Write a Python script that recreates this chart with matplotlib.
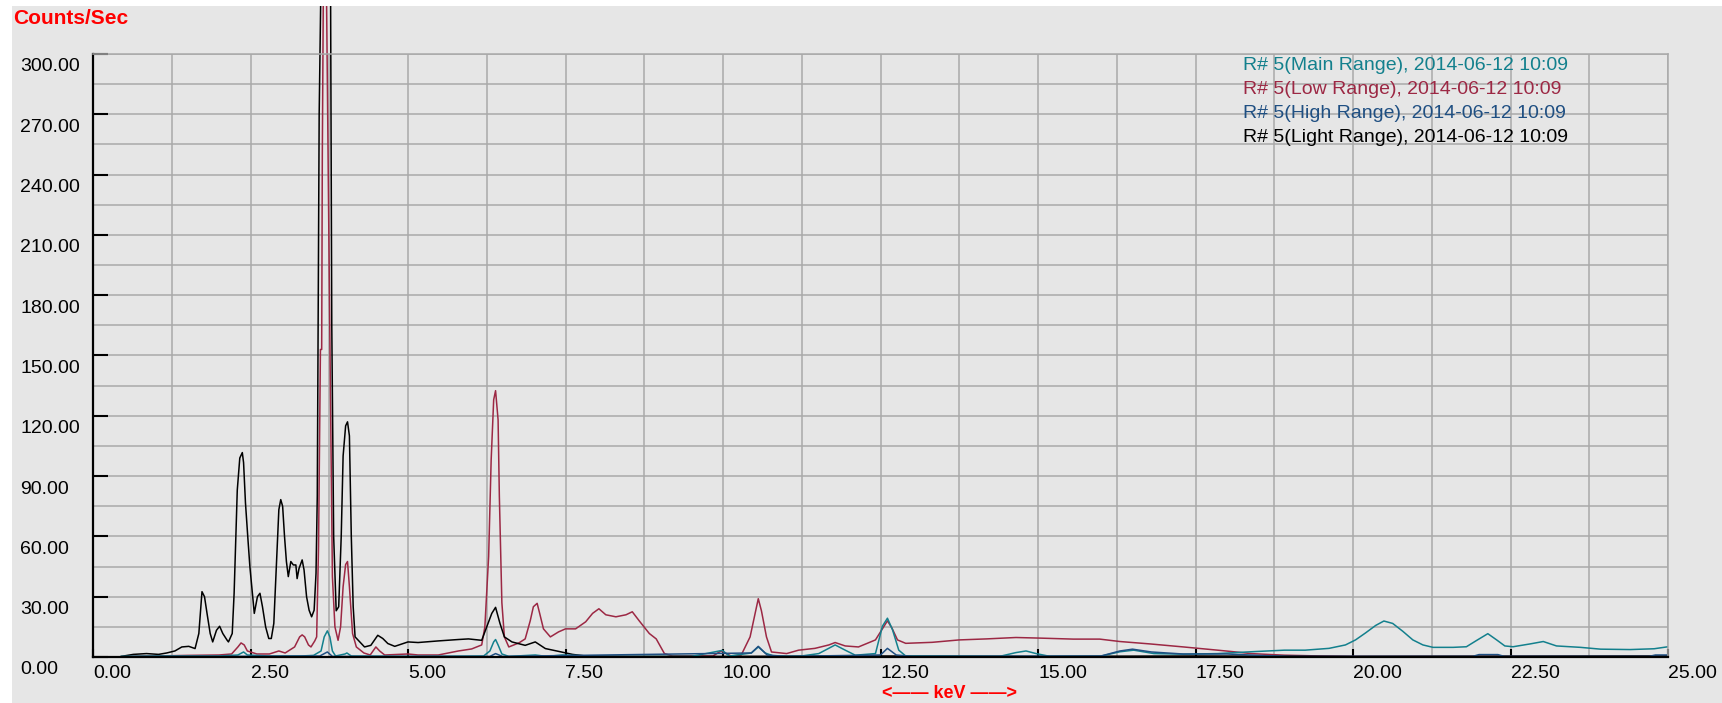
import matplotlib
matplotlib.use("Agg")
import matplotlib.pyplot as plt
import numpy as np
from matplotlib.patches import Rectangle
from matplotlib.transforms import Bbox, TransformedBbox

plt.rcParams['font.family'] = ['Liberation Sans', 'DejaVu Sans']

# spectra: energy (keV) and counts per second
light_kev = [0.45, 0.64, 0.85, 1.04, 1.17, 1.30, 1.41, 1.52, 1.62, 1.68, 1.73, 1.77, 1.81,
             1.86, 1.90, 1.96, 2.01, 2.06, 2.13, 2.15, 2.21, 2.24, 2.29, 2.33, 2.37, 2.39,
             2.42, 2.46, 2.49, 2.53, 2.56, 2.61, 2.65, 2.69, 2.74, 2.79, 2.83, 2.87, 2.91,
             2.95, 2.98, 3.01, 3.04, 3.07, 3.10, 3.14, 3.18, 3.22, 3.24, 3.27, 3.32, 3.35,
             3.39, 3.43, 3.47, 3.51, 3.54, 3.56, 3.59, 3.62, 3.77, 3.79, 3.82, 3.86, 3.90,
             3.94, 3.97, 4.01, 4.04, 4.07, 4.10, 4.13, 4.16, 4.31, 4.41, 4.52, 4.60, 4.68,
             4.79, 5.00, 5.16, 5.48, 5.80, 5.96, 6.17, 6.25, 6.33, 6.39, 6.46, 6.53, 6.65,
             6.86, 7.02, 7.18, 7.39, 7.61, 7.82, 8.50, 10.0, 12.5, 15.0, 17.5, 20.0, 25.0]
light_cps = [0.3, 1.3, 1.7, 1.3, 2.0, 3.0, 5.0, 5.3, 4.2, 11.7, 32.5, 30.0, 21.7,
             11.7, 7.5, 13.3, 15.3, 11.7, 8.3, 7.5, 11.7, 31.7, 83.0, 99.0, 101.7, 96.7,
             76.7, 58.3, 45.0, 31.7, 21.7, 30.0, 31.7, 25.0, 15.0, 9.2, 9.2, 16.7, 45.0,
             73.3, 78.3, 75.0, 60.0, 47.5, 40.0, 47.5, 45.8, 45.8, 39.0, 44.0, 48.3, 43.3,
             30.0, 23.3, 20.0, 23.3, 41.7, 80.0, 270.0, 340.0, 340.0, 165.0, 60.0, 23.0, 25.0,
             60.0, 100.0, 115.0, 117.0, 110.0, 60.0, 25.0, 10.0, 5.0, 5.8, 10.8, 9.2, 6.7,
             5.3, 7.5, 7.2, 8.0, 8.7, 9.0, 8.3, 15.0, 21.7, 24.7, 16.7, 10.0, 7.5,
             5.8, 7.5, 4.2, 2.8, 1.3, 0.5, 0.3, 0.3, 0.5, 0.3, 0.5, 0.3, 0.5]

low_kev = [0.55, 1.0, 1.5, 2.0, 2.2, 2.30, 2.35, 2.40, 2.45, 2.60, 2.80, 2.95, 3.05, 3.20,
           3.28, 3.32, 3.36, 3.42, 3.46, 3.52, 3.55, 3.58, 3.61, 3.63, 3.64, 3.66, 3.70,
           3.72, 3.75, 3.77, 3.80, 3.84, 3.89, 3.93, 3.97, 4.01, 4.04, 4.07, 4.12, 4.18,
           4.30, 4.40, 4.49, 4.55, 4.63, 5.00, 5.16, 5.48, 5.80, 6.01, 6.17, 6.22, 6.28,
           6.32, 6.36, 6.39, 6.43, 6.45, 6.49, 6.53, 6.60, 6.76, 6.86, 6.94, 6.99, 7.05,
           7.09, 7.15, 7.26, 7.39, 7.50, 7.66, 7.82, 7.93, 8.03, 8.14, 8.30, 8.46, 8.56,
           8.67, 8.83, 8.94, 9.07, 9.20, 9.84, 9.97, 10.13, 10.29, 10.43, 10.51, 10.56,
           10.61, 10.69, 10.77, 11.01, 11.20, 11.46, 11.68, 11.78, 11.94, 12.15, 12.42,
           12.53, 12.61, 12.68, 12.77, 12.90, 13.32, 13.75, 14.18, 14.65, 15.03, 15.56,
           15.98, 16.30, 16.78, 17.31, 17.85, 18.11, 18.38, 18.91, 19.50, 20.0, 25.0]
low_cps = [0.3, 0.5, 0.8, 1.0, 1.5, 5.0, 7.0, 6.0, 3.0, 1.5, 1.5, 3.0, 2.0, 5.0,
           10.0, 11.0, 10.0, 6.0, 5.0, 8.0, 10.0, 55.0, 153.0, 153.0, 250.0, 350.0, 350.0,
           286.0, 190.0, 128.0, 40.0, 15.0, 8.3, 15.0, 35.0, 46.0, 47.5, 35.0, 11.7, 5.0,
           2.0, 1.0, 5.0, 3.0, 1.0, 1.5, 1.0, 1.0, 3.0, 4.0, 6.0, 15.0, 50.0,
           98.0, 128.0, 132.5, 118.0, 80.0, 27.0, 10.0, 5.0, 7.0, 9.0, 18.0, 25.0, 26.7,
           21.7, 14.0, 10.0, 12.5, 14.0, 14.0, 17.5, 21.7, 24.0, 21.0, 20.0, 21.0, 22.5,
           18.0, 11.7, 9.0, 1.7, 0.5, 0.5, 3.0, 0.5, 1.0, 10.0, 21.7, 29.0,
           23.0, 10.0, 2.5, 1.7, 3.4, 4.3, 6.0, 7.2, 5.5, 5.0, 8.5,
           14.0, 18.0, 14.5, 8.5, 6.8, 7.3, 8.5, 9.0, 9.7, 9.4, 8.9,
           8.9, 7.7, 6.5, 5.0, 3.4, 2.6, 1.7, 0.9, 0.5, 0.3, 0.3]

main_kev = [0.45, 1.0, 1.5, 2.0, 2.30, 2.39, 2.45, 2.80, 3.30, 3.50, 3.62, 3.67, 3.72, 3.76,
            3.80, 3.85, 4.00, 4.03, 4.10, 5.00, 6.20, 6.30, 6.36, 6.39, 6.43, 6.49, 6.60,
            7.02, 7.20, 7.45, 8.00, 9.50, 9.99, 10.10, 10.45, 10.56, 10.67, 10.80, 11.20,
            11.52, 11.78, 11.94, 12.10, 12.42, 12.53, 12.61, 12.69, 12.79, 12.90, 14.39,
            14.65, 14.81, 14.97, 15.19, 15.98, 16.30, 16.52, 16.84, 17.31, 17.85, 18.38,
            18.91, 19.24, 19.62, 19.88, 20.04, 20.20, 20.36, 20.49, 20.63, 20.79, 20.95,
            21.11, 21.27, 21.59, 21.80, 21.96, 22.14, 22.28, 22.41, 22.54, 22.81, 23.02,
            23.23, 23.61, 23.93, 24.40, 24.78, 25.0]
main_cps = [0.3, 0.5, 0.5, 0.5, 1.0, 2.5, 1.0, 0.5, 0.5, 0.8, 3.0, 10.0, 13.0, 10.0,
            3.0, 0.5, 1.5, 2.0, 0.5, 0.3, 0.5, 3.0, 7.5, 8.7, 6.0, 1.5, 0.3,
            1.0, 0.3, 1.0, 0.3, 0.3, 3.3, 0.5, 2.0, 5.0, 2.0, 0.5, 0.3,
            1.7, 6.0, 3.4, 0.9, 1.7, 15.3, 19.3, 13.6, 3.4, 0.5, 0.3,
            2.2, 3.0, 1.7, 0.3, 0.3, 2.6, 3.4, 1.7, 1.4, 1.7, 2.6,
            3.4, 3.4, 4.3, 6.0, 8.5, 12.0, 15.7, 17.9, 16.7, 12.8, 8.5,
            6.0, 4.8, 4.8, 5.1, 8.2, 11.6, 8.5, 5.5, 5.1, 6.5, 7.7,
            5.5, 4.8, 3.9, 3.7, 4.1, 5.1]

high_kev = [0.45, 2.0, 3.60, 3.72, 3.80, 6.30, 6.39, 6.50, 10.45, 10.56, 10.70, 11.0,
            12.50, 12.61, 12.75, 13.0, 16.0, 16.30, 16.50, 16.80, 17.30, 18.0, 18.50,
            19.0, 21.90, 22.0, 22.30, 22.40, 24.70, 24.80, 25.0]
high_cps = [0.2, 0.3, 0.5, 2.5, 0.3, 0.3, 1.7, 0.3, 2.0, 5.3, 1.0, 0.3,
            1.0, 4.3, 1.0, 0.3, 0.5, 3.0, 3.9, 2.5, 1.5, 1.5, 0.8,
            0.3, 0.3, 1.2, 1.2, 0.3, 0.3, 1.0, 1.0]

series_names = ["R# 5(Main Range), 2014-06-12 10:09",
                "R# 5(Low Range), 2014-06-12 10:09",
                "R# 5(High Range), 2014-06-12 10:09",
                "R# 5(Light Range), 2014-06-12 10:09"]
series_colors = ["#13808d", "#9c2844", "#1f4f82", "#000000"]

x_ticks = np.arange(0, 25.01, 2.5)
y_ticks = np.arange(0, 300.01, 30)

W, H = 1722, 703
fig = plt.figure(figsize=(W / 100, H / 100), dpi=100, facecolor="white")
fig.add_artist(Rectangle((12 / W, 0), 1, (H - 6) / H, transform=fig.transFigure,
                         facecolor="#e6e6e6", edgecolor="none", zorder=-10))

ax = fig.add_axes([93 / W, 46 / H, 1575 / W, 603 / H])
ax.set_facecolor("none")
ax.set_xlim(0, 25)
ax.set_ylim(0, 300)
ax.set_xticks(x_ticks)
ax.set_xticks(np.arange(1.25, 25, 2.5), minor=True)
ax.set_yticks(y_ticks)
ax.set_yticks(np.arange(15, 300, 30), minor=True)
ax.grid(which="both", color="#a9a9a9", linewidth=1.1)
ax.set_axisbelow(True)
ax.tick_params(which="both", labelleft=False, labelbottom=False, direction="in")
ax.tick_params(axis="y", which="major", length=11, width=1.5, color="black")
ax.tick_params(axis="x", which="major", length=6, width=1.5, color="black")
ax.tick_params(which="minor", length=0)
for side in ["left", "bottom"]:
    ax.spines[side].set_color("black")
    ax.spines[side].set_linewidth(1.6)
for side in ["top", "right"]:
    ax.spines[side].set_color("#a9a9a9")
    ax.spines[side].set_linewidth(1.1)

# lines may run above the 300 mark up to the top of the grey panel
clip = TransformedBbox(Bbox([[93 / W, 46 / H], [1668 / W, (H - 6) / H]]), fig.transFigure)
order = [(low_kev, low_cps, 1), (light_kev, light_cps, 3),
         (main_kev, main_cps, 0), (high_kev, high_cps, 2)]
for kev, cps, i in order:
    line, = ax.plot(kev, cps, color=series_colors[i], linewidth=1.1)
    line.set_clip_box(clip)

for v in y_ticks:
    ax.annotate(f"{v:.2f}", xy=(0, v), xycoords=("axes fraction", "data"),
                xytext=(-73, -13), textcoords="offset pixels",
                ha="left", va="center", fontsize=14)
for v in x_ticks:
    ax.annotate(f"{v:.2f}", xy=(v, 0), xycoords=("data", "axes fraction"),
                xytext=(0, -16), textcoords="offset pixels",
                ha="left", va="center", fontsize=14)

for i, (name, col) in enumerate(zip(series_names, series_colors)):
    fig.text(1243 / W, 1 - (66 + i * 23.7) / H, name, color=col,
             fontsize=14, ha="left", va="center")

fig.text(13 / W, 1 - 18 / H, "Counts/Sec", color="red", fontweight="bold",
         fontsize=15, ha="left", va="center")
fig.text(950 / W, 1 - 694 / H, "<—— keV ——>", color="red", fontweight="bold",
         fontsize=13, ha="center", va="center")

fig.savefig("out.png", dpi=100, facecolor="white")
